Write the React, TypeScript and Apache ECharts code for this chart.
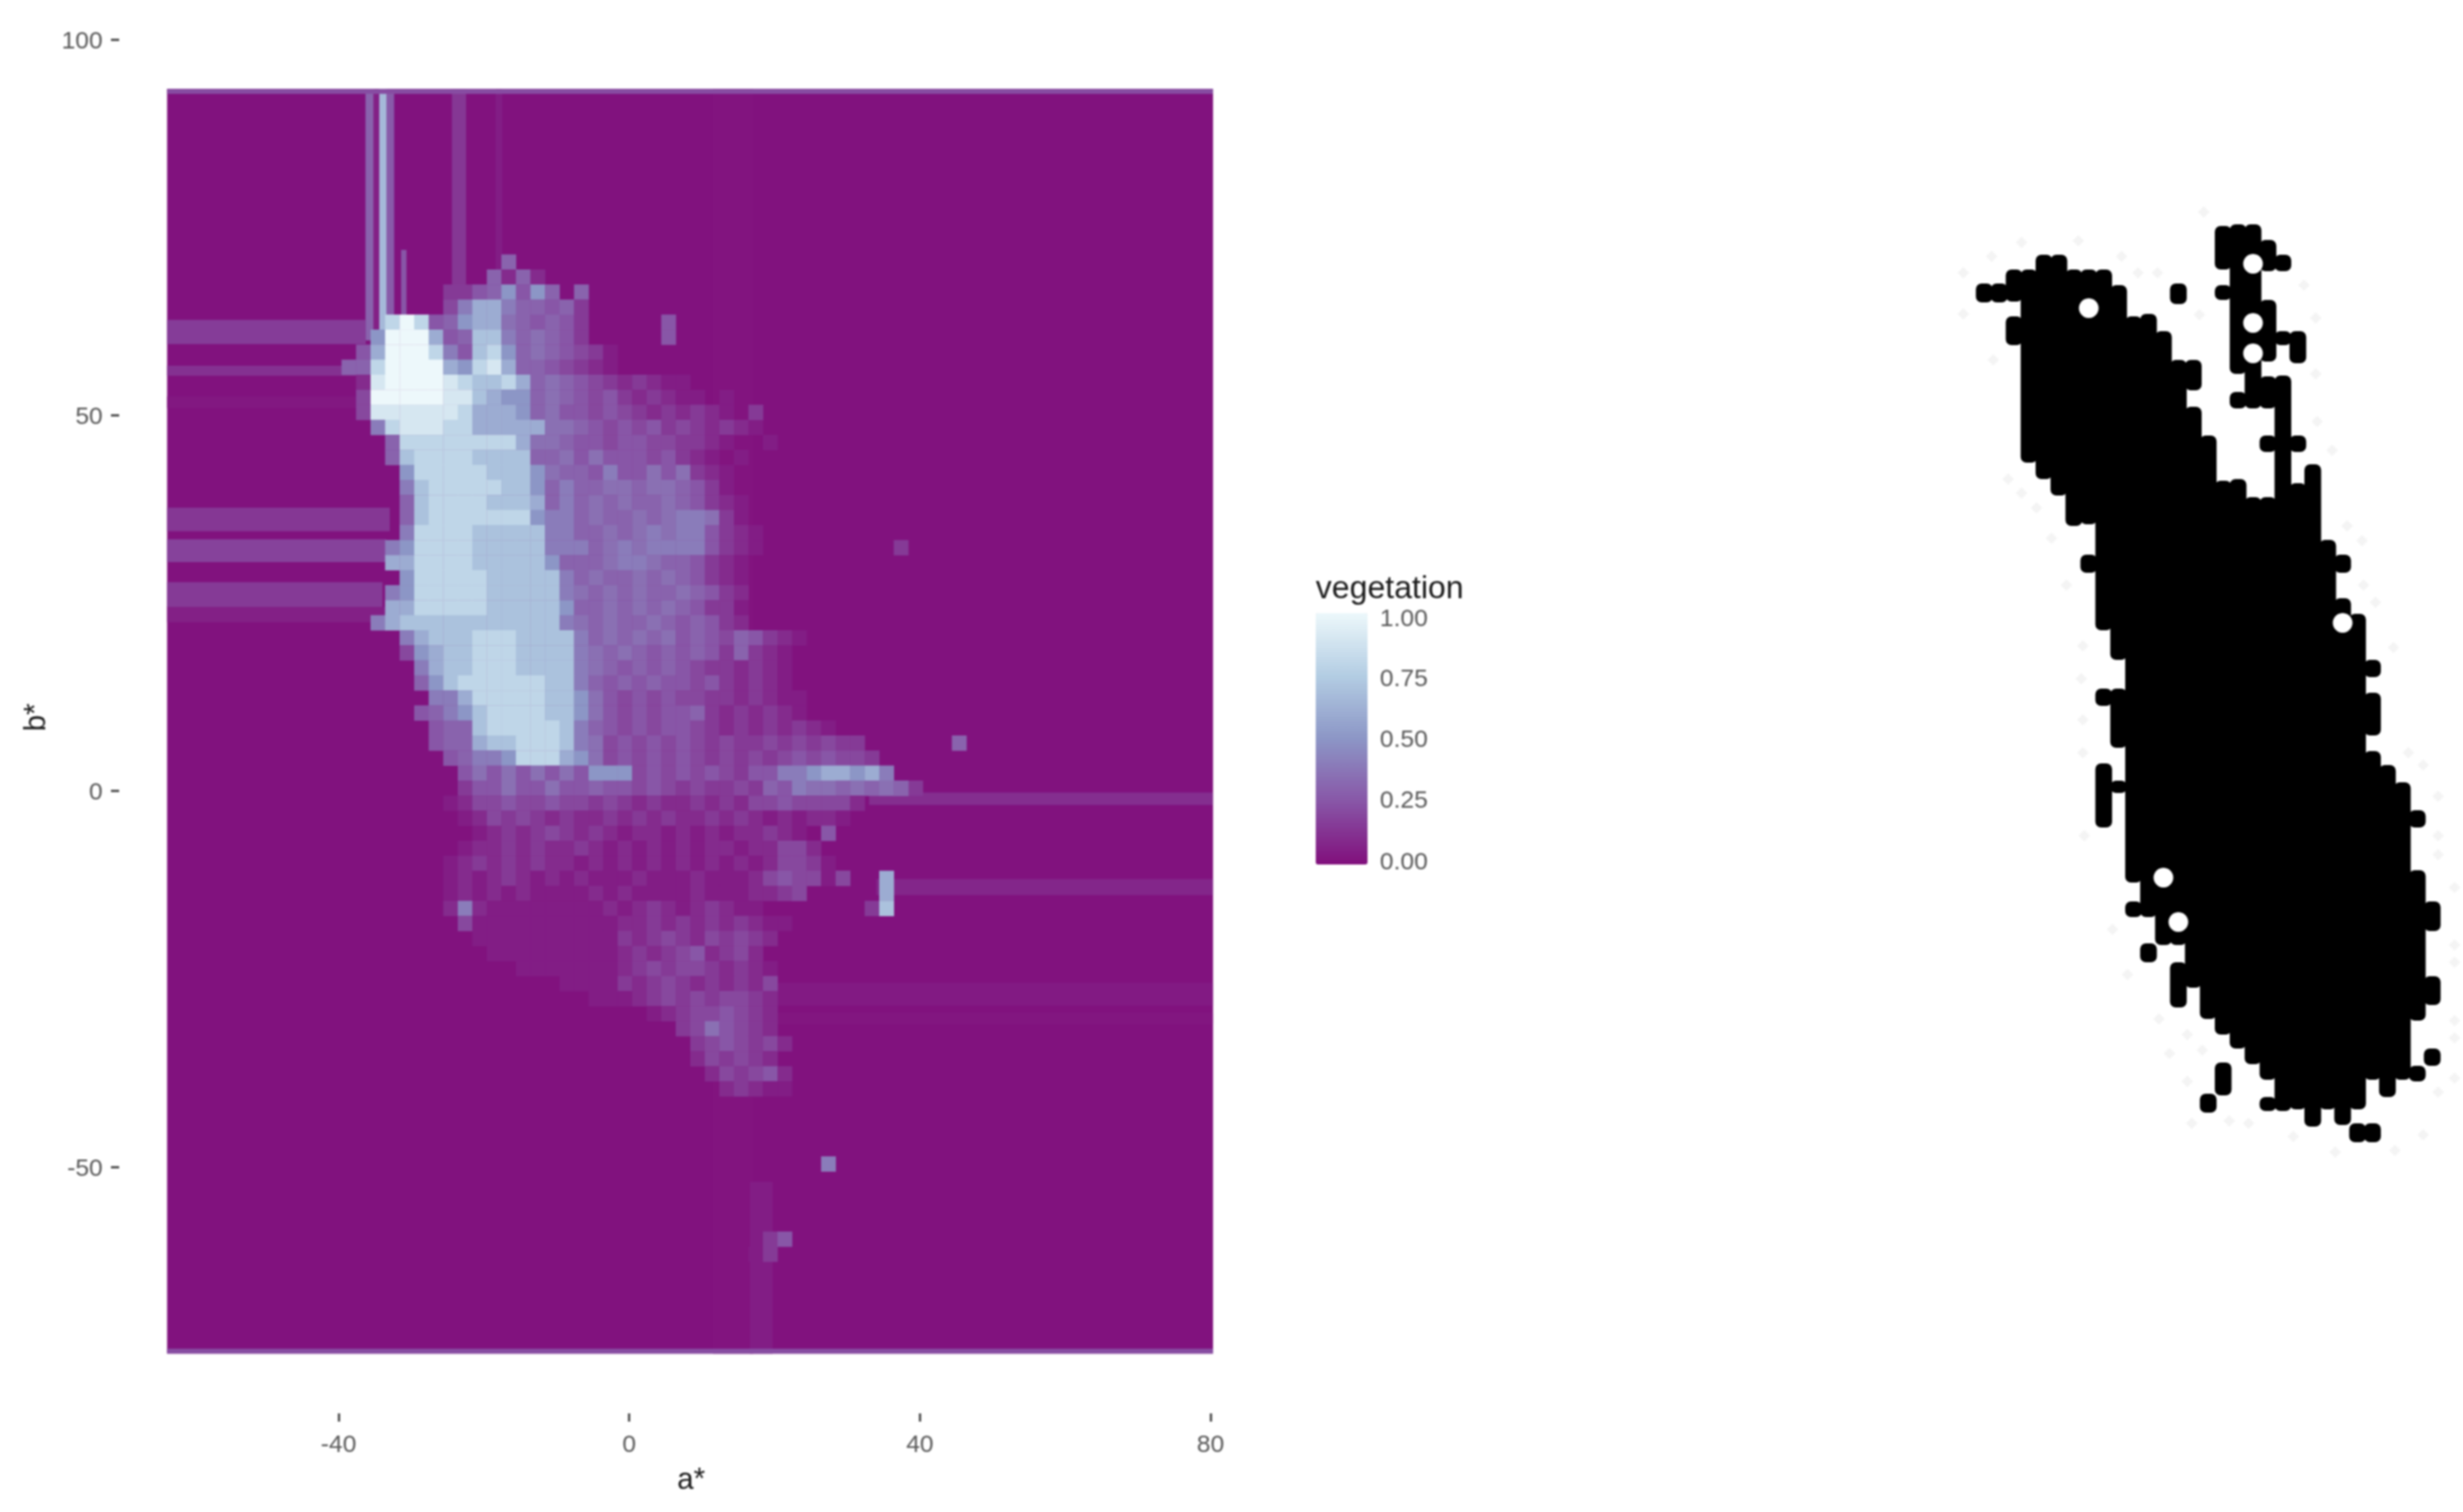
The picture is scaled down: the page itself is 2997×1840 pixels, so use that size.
import React, { useEffect, useRef } from "react";
import * as echarts from "echarts";

const xTicks = { min: -40, max: 80, step: 40 };
const yTicks = { min: -50, max: 100, step: 50 };
const legendTicks = ["1.00", "0.75", "0.50", "0.25", "0.00"];
const palette = ["#810F7C", "#8856A7", "#8C96C6", "#B3CDE3", "#EDF8FB"];

// plot extent in a*, b*
const aRange = [-63.6, 80.3];
const bRange = [-74.8, 93.4];
const cellStep = 2;

// [a0, a1, b0, b1, vegetation]
const verticalBands = [
  [-36.3, -35.2, 60, 93.4, 0.3],
  [-35.2, -34.4, 60, 93.4, 0.06],
  [-34.4, -33.4, 60, 93.4, 0.66],
  [-33.4, -32.4, 62, 93.4, 0.27],
  [-24.4, -22.5, 66, 93.4, 0.14],
  [-18.4, -17.5, 66, 93.4, 0.05],
  [-31.4, -30.7, 63, 72, 0.25],
  [11.5, 17, -74.8, 93.4, 0.018],
  [16.6, 19.7, -74.8, -52, 0.05],
];
const horizontalBands = [
  [-63.6, -36.3, 59.5, 62.7, 0.16],
  [-63.6, -37, 55.3, 56.6, 0.12],
  [-63.6, -33, 51, 52.5, 0.03],
  [-63.6, -33, 34.6, 37.7, 0.14],
  [-63.6, -33.5, 30.5, 33.5, 0.18],
  [-63.6, -34, 24.5, 27.8, 0.15],
  [-63.6, -33.5, 22.5, 24.5, 0.06],
  [33, 80.3, -1.8, -0.2, 0.11],
  [34, 80.3, -13.8, -11.7, 0.08],
  [18, 80.3, -28.5, -25.5, 0.04],
  [18, 80.3, -31, -29.5, 0.025],
  [-63.6, 80.3, 92.8, 93.4, 0.22],
  [-63.6, 80.3, -74.8, -74.2, 0.22],
];

// [row, first column, one letter per cell: digit = tenths of vegetation,
//  a=.05 b=.15 c=.25 d=.35, X = 1, . = none]
const heatRows: [number, number, string][] = [
  [11, 23, "3"],
  [12, 22, "3131"],
  [13, 19, "bbc35c53.3"],
  [14, 19, "2466433c3b"],
  [15, 15, "8X8c3566d3c3cb"],
  [15, 34, "c"],
  [16, 14, "5XXX6c37743d3cb"],
  [16, 34, "c"],
  [17, 13, "c6XXX84c7853d3c2ba"],
  [18, 12, "338XXXX6589633c2b1a"],
  [19, 13, "19XXXX9877863d3c2b1b1aa"],
  [20, 13, "2XXXXX9976553d3c2cb1b1aa.a"],
  [21, 13, "2999999866653dcc2c2b1b1b1a"],
  [22, 14, "489998866666dd3c2c2cb2b1b1a"],
  [23, 15, "3888888886dd3cc2cc22bb1a"],
  [24, 15, "378888777733dcdccc2cb1a.a"],
  [25, 16, "5888887775d33c4ccdcdb1a"],
  [26, 16, "47888887753433dd3dd3cba"],
  [27, 16, "3788887776343d3d33d3cb1a"],
  [28, 16, "3788888885443d33d3d44dba"],
  [29, 16, "48888777774433d3d4d44cb1a"],
  [30, 15, "458888777774443d4d4444cb1a"],
  [31, 15, "668888777775333d44d33cb1a"],
  [32, 16, "5888887777743d33d3d3cb1a"],
  [33, 15, "4588888777774d3d3d33d3cb1"],
  [34, 15, "668888877777533d3d3d3cbba"],
  [35, 14, "46777777777774d3d33d3c3cb1"],
  [36, 16, "46777888777743d3d3dc3c23cb1a"],
  [37, 16, "2567788877774d3d3c3c3cb3b1a"],
  [38, 17, "467788877774d3c3c3c2bb1b1a"],
  [39, 17, "3578888887743c3c3cc2cb1b1a"],
  [40, 18, "44688888775dc2c2c22bb1b1aa"],
  [41, 17, "c34578888775dc2c2cc3b1b1b1a"],
  [42, 18, "c33788888743c2c2cc2b1b1b1b1a"],
  [43, 18, "c3367788874d2c2c2c2b2bb2b2b2bb"],
  [44, 19, "c344588865d2c2c2c2b2b2b2c2c22b"],
  [45, 20, "cdcdcdcdc5552c2c2c2bcc44566564"],
  [46, 20, "bccdccdcc3cc2c2b2bb2b3c4dd3d3d3b"],
  [46, 50, "3"],
  [47, 19, "a122c22c22b2b1b11b1b122c22221"],
  [48, 20, "a12b2b1b11b1b1b11b1b1a1a11a"],
  [49, 21, "a1b1b2b1b1a11a1a1a11b1a.c"],
  [50, 20, "a11b1b11b1a1a1a1a11a11221"],
  [51, 19, "a1b1b1b11a1a1a1a1a1a1a122ba"],
  [52, 19, "a1a1b1a1a1aaa1aaa1aaa12c22a"],
  [53, 19, "a1a1a1aaaa1a1aaaa1aaa11b2"],
  [52, 46, "2..6"],
  [53, 49, "6"],
  [54, 19, "141aaaaaaaa1a1b1a1b1aa"],
  [54, 48, "b7"],
  [55, 20, "2aaaaaaaaaa11b1b1b1b1aa"],
  [56, 21, "aaaaaaaaaab1b2b12b2b1"],
  [57, 22, "aaaaaaaaa1b1b2c1b21"],
  [58, 24, "aaaaaaa1b2b22b1b1a"],
  [59, 27, "aaaab1b2b1b1b12"],
  [60, 29, "aaa1b2b2b22b1"],
  [61, 33, "a1b22c2b1"],
  [62, 35, "b2dc2b1"],
  [63, 36, "b2c2b21"],
  [64, 36, "12b2b1"],
  [65, 37, "12b2c1"],
  [66, 38, "1b1aa"],
  [71, 45, "4"],
  [76, 41, "bc"],
  [77, 40, "ab"],
  [43, 54, "3"],
  [30, 50, "b"],
  [23, 41, "a"],
  [21, 40, "b"],
];

// right panel: [column, [top, bottom, top, bottom, ...]]
const maskColumns: [number, number[]][] = [
  [-11, [345, 368]],
  [-10, [345, 368]],
  [-9, [328, 367, 385, 420]],
  [-8, [328, 563]],
  [-7, [310, 583]],
  [-6, [310, 603]],
  [-5, [328, 640]],
  [-4, [328, 638, 675, 697]],
  [-3, [328, 767, 838, 859, 929, 1007]],
  [-2, [347, 803, 838, 910, 950, 965]],
  [-1, [385, 1074, 1097, 1116]],
  [0, [382, 1116, 1148, 1171]],
  [1, [403, 1150]],
  [2, [345, 370, 438, 1150, 1171, 1226]],
  [3, [438, 475, 495, 1202]],
  [4, [530, 1240, 1331, 1354]],
  [5, [275, 328, 347, 365, 585, 1259, 1293, 1333]],
  [6, [273, 455, 477, 497, 583, 1276]],
  [7, [273, 497, 605, 1295]],
  [8, [292, 330, 365, 440, 458, 497, 530, 550, 605, 1314, 1335, 1352]],
  [9, [310, 330, 403, 420, 457, 1352]],
  [10, [403, 442, 530, 550, 588, 1350]],
  [11, [565, 1371]],
  [12, [657, 1350]],
  [13, [675, 697, 728, 1369]],
  [14, [747, 1350, 1367, 1390]],
  [15, [803, 824, 843, 895, 914, 1314, 1367, 1390]],
  [16, [931, 1335]],
  [17, [952, 1314]],
  [18, [986, 1007, 1059, 1242, 1297, 1316]],
  [19, [1097, 1133, 1188, 1223, 1276, 1297]],
];
const maskHoles = [
  [-4, 375], [7, 321], [7, 393], [7, 430], [1, 1068], [2, 1122], [13, 758],
];
const faintMarks = [
  [3.7, 258], [-8.5, 295], [-4.7, 293], [-10.5, 312], [-1.8, 312], [-12.4, 332], [-0.7, 332], [0.6, 332],
  [-12.4, 382], [3.4, 383], [10.4, 347], [11.2, 387], [-10.4, 438], [11.2, 455], [11.3, 513], [12.3, 548],
  [-9.4, 583], [-8.5, 600], [-7.5, 618], [13.3, 640], [14.3, 658], [-6.5, 655], [-5.5, 712], [14.4, 712],
  [15.2, 733], [-4.4, 786], [16.4, 788], [-4.5, 826], [-4.4, 876], [-4.4, 916], [17.4, 916], [18.4, 931],
  [19.4, 969], [-4.3, 1017], [19.4, 1017], [19.4, 1040], [20.5, 1080], [20.5, 1150], [20.5, 1171], [-2.4, 1131],
  [-1.4, 1186], [0.7, 1240], [2.6, 1259], [1.4, 1282], [3.6, 1278], [20.5, 1242], [20.5, 1263], [2.6, 1316],
  [20.5, 1312], [19.4, 1329], [2.9, 1367], [5.4, 1364], [6.7, 1367], [9.7, 1383], [12.5, 1402], [16.5, 1400],
  [18.4, 1381],
];

const FONT = "Liberation Sans";
const letterValues: Record<string, number> = { a: 0.05, b: 0.15, c: 0.25, d: 0.35, X: 1 };

function heatData() {
  const out: number[][] = [[aRange[0], aRange[1], bRange[0], bRange[1], 0.012]];
  verticalBands.forEach((b) => out.push(b));
  horizontalBands.forEach((b) => out.push(b));
  heatRows.forEach(([row, col, digits]) => {
    digits.split("").forEach((ch, i) => {
      if (ch === ".") return;
      const v = ch in letterValues ? letterValues[ch] : Number(ch) / 10;
      const a0 = aRange[0] + (col + i) * cellStep;
      const b1 = bRange[1] - row * cellStep;
      out.push([a0, a0 + cellStep, b1 - cellStep, b1, v]);
    });
  });
  return out;
}

function maskData() {
  const out: number[][] = [];
  maskColumns.forEach(([k, runs]) => {
    for (let i = 0; i < runs.length; i += 2) out.push([k, runs[i], runs[i + 1]]);
  });
  return out;
}

export default function App() {
  const ref = useRef<HTMLDivElement>(null);
  useEffect(() => {
    const chart = echarts.init(ref.current!, undefined, { renderer: "svg" });
    chart.setOption({
      animation: false,
      backgroundColor: "#ffffff",
      textStyle: { fontFamily: FONT },
      grid: [
        { left: 412, top: 48, width: 1061, height: 1372 },
        { left: 2380, top: 0, width: 617, height: 1840 },
      ],
      xAxis: [
        {
          type: "value",
          gridIndex: 0,
          min: xTicks.min,
          max: xTicks.max,
          interval: xTicks.step,
          offset: 300,
          splitLine: { show: false },
          axisLine: { show: false, onZero: false },
          axisTick: { show: true, length: 10, lineStyle: { color: "#555555", width: 3 } },
          axisLabel: { fontSize: 30, color: "#5a5a5a", margin: 21, fontFamily: FONT },
        },
        { type: "value", gridIndex: 1, min: -12.895, max: 21.06, show: false },
      ],
      yAxis: [
        {
          type: "value",
          gridIndex: 0,
          min: yTicks.min,
          max: yTicks.max,
          interval: yTicks.step,
          offset: 267,
          splitLine: { show: false },
          axisLine: { show: false, onZero: false },
          axisTick: { show: true, length: 10, lineStyle: { color: "#555555", width: 3 } },
          axisLabel: { fontSize: 30, color: "#5a5a5a", margin: 20, fontFamily: FONT },
        },
        { type: "value", gridIndex: 1, min: 0, max: 1840, inverse: true, show: false },
      ],
      visualMap: {
        type: "continuous",
        min: 0,
        max: 1,
        seriesIndex: 0,
        dimension: 4,
        left: 1601,
        top: 746,
        itemWidth: 63,
        itemHeight: 306,
        padding: 0,
        text: ["", ""],
        showLabel: false,
        calculable: false,
        hoverLink: false,
        inRange: { color: palette },
      },
      graphic: [
        { type: "text", x: 841, y: 1799, style: { text: "a*", font: `36px '${FONT}'`, fill: "#1a1a1a", textAlign: "center", textVerticalAlign: "middle" } },
        { type: "text", x: 42, y: 873, rotation: Math.PI / 2, style: { text: "b*", font: `36px '${FONT}'`, fill: "#1a1a1a", textAlign: "center", textVerticalAlign: "middle" } },
        { type: "text", left: 1601, top: 695, style: { text: "vegetation", font: `39px '${FONT}'`, fill: "#1a1a1a" } },
        ...legendTicks.map((t, i) => ({
          type: "text",
          left: 1679,
          top: [736, 809, 883, 957, 1032][i],
          style: { text: t, font: `30px '${FONT}'`, fill: "#5a5a5a" },
        })),
        ...[825, 898, 971, 1045].flatMap((y) => [
          { type: "rect", shape: { x: 1601, y: y - 1, width: 13, height: 2 }, style: { fill: "#ffffff", opacity: 0.6 } },
          { type: "rect", shape: { x: 1651, y: y - 1, width: 13, height: 2 }, style: { fill: "#ffffff", opacity: 0.6 } },
        ]),
      ],
      series: [
        {
          type: "custom",
          xAxisIndex: 0,
          yAxisIndex: 0,
          clip: false,
          encode: { x: [0, 1], y: [2, 3] },
          data: heatData(),
          renderItem: (_p: any, api: any) => {
            const tl = api.coord([api.value(0), api.value(3)]);
            const br = api.coord([api.value(1), api.value(2)]);
            return {
              type: "rect",
              shape: { x: tl[0], y: tl[1], width: br[0] - tl[0] + 0.4, height: br[1] - tl[1] + 0.4 },
              style: { fill: api.visual("color") },
            };
          },
        },
        {
          type: "custom",
          xAxisIndex: 1,
          yAxisIndex: 1,
          clip: false,
          encode: { x: 0, y: [1, 2] },
          data: maskData(),
          renderItem: (_p: any, api: any) => {
            const k = api.value(0);
            const tl = api.coord([k - 0.56, api.value(1)]);
            const br = api.coord([k + 0.56, api.value(2)]);
            return {
              type: "rect",
              shape: { x: tl[0], y: tl[1], width: br[0] - tl[0], height: br[1] - tl[1], r: 7 },
              style: { fill: "#000000" },
            };
          },
        },
        {
          type: "scatter",
          xAxisIndex: 1,
          yAxisIndex: 1,
          data: maskHoles,
          symbol: "circle",
          symbolSize: 24,
          itemStyle: { color: "#ffffff", opacity: 1 },
          silent: true,
          z: 5,
        },
        {
          type: "scatter",
          xAxisIndex: 1,
          yAxisIndex: 1,
          data: faintMarks,
          symbol: "diamond",
          symbolSize: 14,
          itemStyle: { color: "#f4f4f4", opacity: 1 },
          silent: true,
          z: 1,
        },
      ],
    });
    return () => chart.dispose();
  }, []);
  return (
    <div
      ref={ref}
      style={{ position: "fixed", left: 0, top: 0, width: 2997, height: 1840, background: "#fff", filter: "blur(0.9px)" }}
    />
  );
}
